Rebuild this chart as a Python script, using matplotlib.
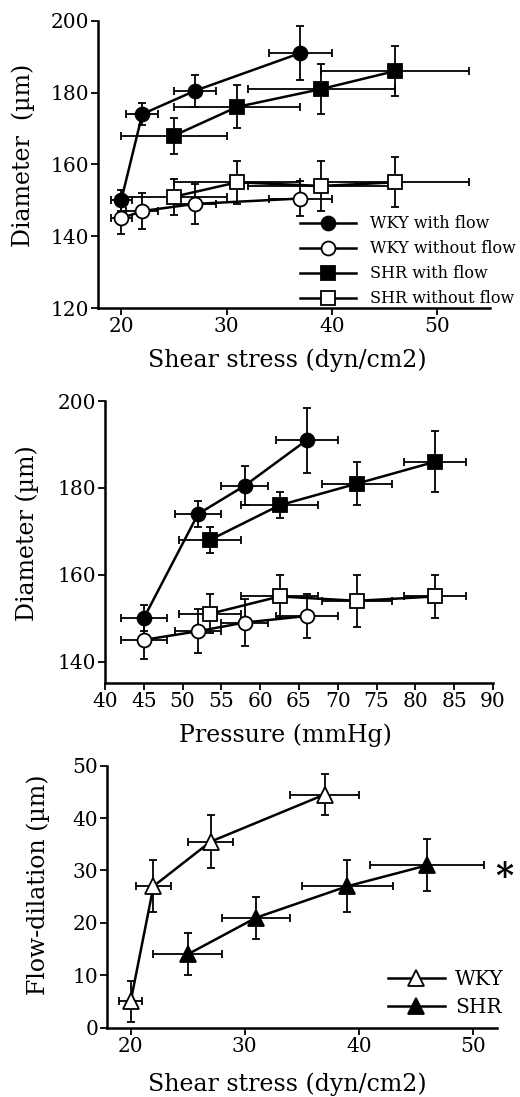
import matplotlib
matplotlib.use("Agg")
import matplotlib.pyplot as plt

plt.rcParams['font.family'] = ['DejaVu Serif', 'Liberation Serif']

# ---- Panel A: diameter vs shear stress ----
a_wky_f_x = [20, 22, 27, 37]
a_wky_f_y = [150, 174, 180.5, 191]
a_wky_f_xe = [1, 1.5, 2, 3]
a_wky_f_ye = [3, 3, 4.5, 7.5]

a_wky_n_x = [20, 22, 27, 37]
a_wky_n_y = [145, 147, 149, 150.5]
a_wky_n_xe = [1, 1.5, 2, 3]
a_wky_n_ye = [4.5, 5, 5.5, 5]

a_shr_f_x = [25, 31, 39, 46]
a_shr_f_y = [168, 176, 181, 186]
a_shr_f_xe = [5, 6, 7, 7]
a_shr_f_ye = [5, 6, 7, 7]

a_shr_n_x = [25, 31, 39, 46]
a_shr_n_y = [151, 155, 154, 155]
a_shr_n_xe = [5, 6, 7, 7]
a_shr_n_ye = [5, 6, 7, 7]

# ---- Panel B: diameter vs pressure ----
b_wky_f_x = [45, 52, 58, 66]
b_wky_f_y = [150, 174, 180.5, 191]
b_wky_f_xe = [3, 3, 3, 4]
b_wky_f_ye = [3, 3, 4.5, 7.5]

b_wky_n_x = [45, 52, 58, 66]
b_wky_n_y = [145, 147, 149, 150.5]
b_wky_n_xe = [3, 3, 3, 4]
b_wky_n_ye = [4.5, 5, 5.5, 5]

b_shr_f_x = [53.5, 62.5, 72.5, 82.5]
b_shr_f_y = [168, 176, 181, 186]
b_shr_f_xe = [4, 5, 4.5, 4]
b_shr_f_ye = [3, 3, 5, 7]

b_shr_n_x = [53.5, 62.5, 72.5, 82.5]
b_shr_n_y = [151, 155, 154, 155]
b_shr_n_xe = [4, 5, 4.5, 4]
b_shr_n_ye = [4.5, 5, 6, 5]

# ---- Panel C: flow-dilation vs shear stress ----
c_wky_x = [20, 22, 27, 37]
c_wky_y = [5, 27, 35.5, 44.5]
c_wky_xe = [1, 1.5, 2, 3]
c_wky_ye = [4, 5, 5, 4]

c_shr_x = [25, 31, 39, 46]
c_shr_y = [14, 21, 27, 31]
c_shr_xe = [3, 3, 4, 5]
c_shr_ye = [4, 4, 5, 5]

labels_a = ['WKY with flow', 'WKY without flow', 'SHR with flow', 'SHR without flow']
labels_c = ['WKY', 'SHR']

FS_TICK = 14.5
FS_LAB = 17
LW = 1.8
ELW = 1.3
CAP = 3


def eb(ax, x, y, xe, ye, marker, filled, ms, z):
    c = ax.errorbar(x, y, xerr=xe, yerr=ye, fmt='-', marker=marker, color='black',
                    mfc='black' if filled else 'white', mec='black', mew=1.3,
                    ms=ms, lw=LW, elinewidth=ELW, capsize=CAP, capthick=ELW,
                    zorder=z)
    return c[0]


def style(ax):
    for s in ['top', 'right']:
        ax.spines[s].set_visible(False)
    for s in ['left', 'bottom']:
        ax.spines[s].set_linewidth(1.8)
    ax.tick_params(axis='both', direction='out', length=5, width=1.3,
                   labelsize=FS_TICK, pad=1.5)


def labels(ax, xl, yl, xpos, ypos, fs_x=FS_LAB, fs_y=FS_LAB):
    ax.set_xlabel(xl, fontsize=fs_x)
    ax.set_ylabel(yl, fontsize=fs_y)
    ax.xaxis.set_label_coords(*xpos)
    ax.yaxis.set_label_coords(*ypos)
    ax.xaxis.label.set_va('center')
    ax.yaxis.label.set_va('center')


fig = plt.figure(figsize=(5.2, 10.97), dpi=100)

# Panel A
ax1 = fig.add_axes([0.1885, 0.7192, 0.754, 0.2619])
h = []
h.append(eb(ax1, a_wky_f_x, a_wky_f_y, a_wky_f_xe, a_wky_f_ye, 'o', True, 10, 4))
h.append(eb(ax1, a_wky_n_x, a_wky_n_y, a_wky_n_xe, a_wky_n_ye, 'o', False, 10, 3))
h.append(eb(ax1, a_shr_f_x, a_shr_f_y, a_shr_f_xe, a_shr_f_ye, 's', True, 9.5, 4))
h.append(eb(ax1, a_shr_n_x, a_shr_n_y, a_shr_n_xe, a_shr_n_ye, 's', False, 9.5, 3))
ax1.set_xlim(17.8, 55)
ax1.set_ylim(120, 200)
ax1.set_xticks([20, 30, 40, 50])
ax1.set_yticks([120, 140, 160, 180, 200])
style(ax1)
labels(ax1, 'Shear stress (dyn/cm2)', 'Diameter  (µm)', (0.482, -0.181), (-0.191, 0.533))
leg = ax1.legend(h, labels_a, loc='lower left', bbox_to_anchor=(0.507, -0.009),
                 frameon=False, fontsize=11.5, handlelength=3.5, handletextpad=0.9,
                 labelspacing=0.5, borderpad=0.2, borderaxespad=0)

# Panel B
ax2 = fig.add_axes([0.2019, 0.3771, 0.746, 0.2573])
eb(ax2, b_wky_f_x, b_wky_f_y, b_wky_f_xe, b_wky_f_ye, 'o', True, 10, 4)
eb(ax2, b_wky_n_x, b_wky_n_y, b_wky_n_xe, b_wky_n_ye, 'o', False, 10, 3)
eb(ax2, b_shr_f_x, b_shr_f_y, b_shr_f_xe, b_shr_f_ye, 's', True, 9.5, 4)
eb(ax2, b_shr_n_x, b_shr_n_y, b_shr_n_xe, b_shr_n_ye, 's', False, 9.5, 3)
ax2.set_xlim(40, 90)
ax2.set_ylim(135, 200)
ax2.set_xticks(list(range(40, 95, 5)))
ax2.set_yticks([140, 160, 180, 200])
style(ax2)
labels(ax2, 'Pressure (mmHg)', 'Diameter (µm)', (0.464, -0.183), (-0.201, 0.532))

# Panel C
ax3 = fig.add_axes([0.2063, 0.0632, 0.7494, 0.2388])
h3 = []
h3.append(eb(ax3, c_wky_x, c_wky_y, c_wky_xe, c_wky_ye, '^', False, 11, 3))
h3.append(eb(ax3, c_shr_x, c_shr_y, c_shr_xe, c_shr_ye, '^', True, 11, 4))
ax3.set_xlim(17.95, 52.1)
ax3.set_ylim(0, 50)
ax3.set_xticks([20, 30, 40, 50])
ax3.set_yticks([0, 10, 20, 30, 40, 50])
style(ax3)
labels(ax3, 'Shear stress (dyn/cm2)', 'Flow-dilation (µm)', (0.462, -0.215), (-0.178, 0.545))
ax3.legend(h3, labels_c, loc='lower left', bbox_to_anchor=(0.71, 0.027),
           frameon=False, fontsize=14.5, handlelength=2.83, handletextpad=0.5,
           labelspacing=0.41, borderpad=0.2, borderaxespad=0)
ax3.text(52.7, 28.8, '*', fontsize=25, fontweight='bold', ha='center', va='center',
         clip_on=False)

fig.savefig('out.png', dpi=100)
